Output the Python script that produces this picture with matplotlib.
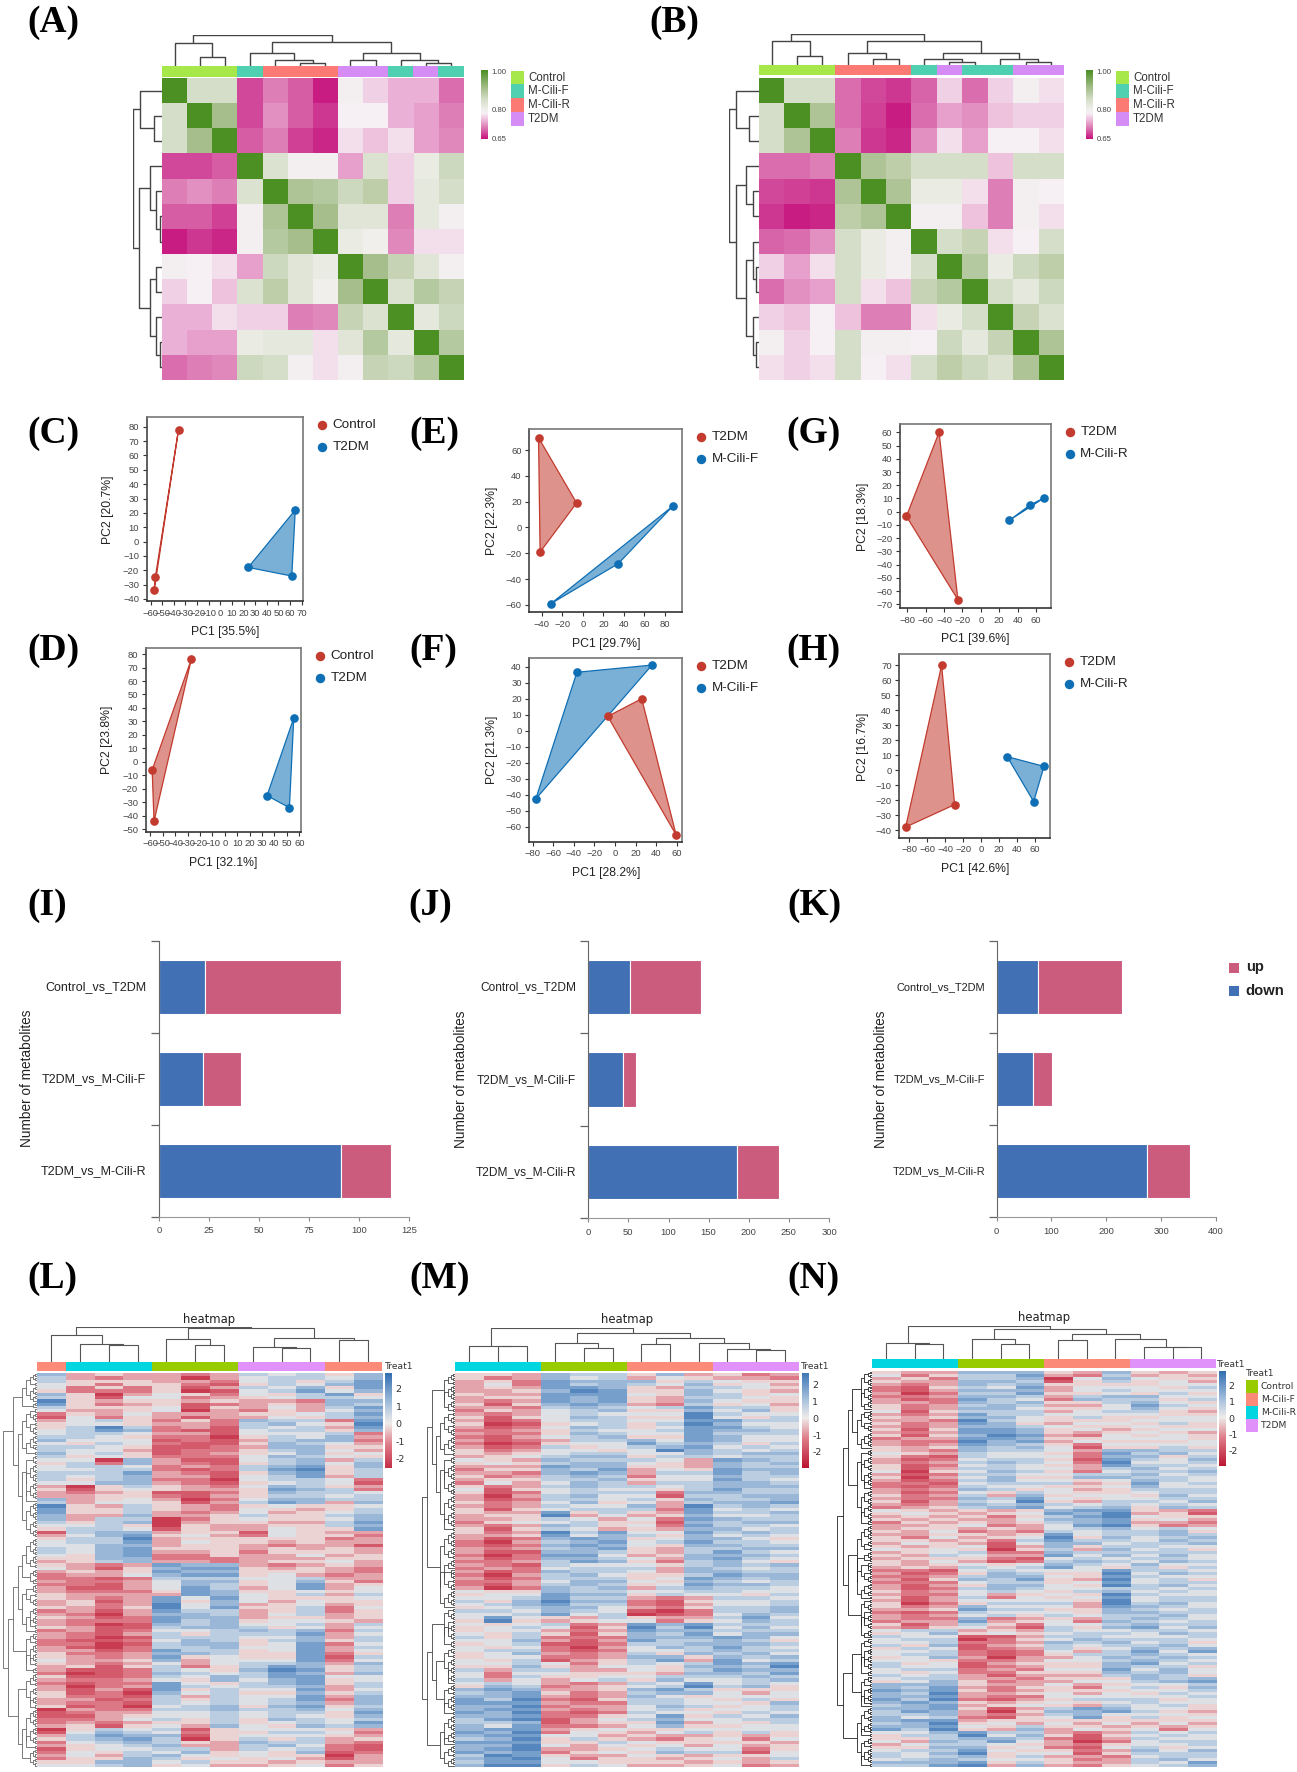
import numpy as np
import matplotlib
matplotlib.use('Agg')
import matplotlib.pyplot as plt
from matplotlib.collections import LineCollection
from matplotlib.colors import LinearSegmentedColormap, Normalize
from matplotlib.patches import Rectangle

W, H = 1297, 1772
plt.rcParams['font.family'] = ['Liberation Sans', 'DejaVu Sans']

# ---- correlation heatmaps (A, B) ----
CORR_LEGEND = ['Control', 'M-Cili-F', 'M-Cili-R', 'T2DM']
CORR_COLORS = {'G': '#a6e84a', 'F': '#4fd0b0', 'R': '#fb7a74', 'T': '#d58cf5'}
A_GROUPS = 'GGGFRRRTTFTF'
B_GROUPS = 'GGGRRRFTFFTT'
A_CORR = [
    [1.00, .85, .85, .68, .71, .69, .655, .79, .76, .74, .74, .70],
    [.85, 1.00, .91, .68, .72, .69, .67, .78, .78, .74, .73, .71],
    [.85, .91, 1.00, .69, .71, .675, .66, .77, .75, .77, .73, .715],
    [.68, .68, .69, 1.00, .84, .79, .79, .73, .84, .76, .81, .86],
    [.71, .72, .71, .84, 1.00, .90, .89, .86, .88, .76, .82, .85],
    [.69, .69, .675, .79, .90, 1.00, .91, .83, .83, .71, .82, .79],
    [.655, .67, .66, .79, .89, .91, 1.00, .81, .80, .715, .77, .77],
    [.79, .78, .77, .73, .86, .83, .81, 1.00, .91, .87, .83, .79],
    [.76, .78, .75, .84, .88, .83, .80, .91, 1.00, .84, .89, .87],
    [.74, .74, .77, .76, .76, .71, .715, .87, .84, 1.00, .82, .86],
    [.74, .73, .73, .81, .82, .82, .77, .83, .89, .82, 1.00, .89],
    [.70, .71, .715, .86, .85, .79, .77, .79, .87, .86, .89, 1.00],
]
B_CORR = [
    [1.00, .85, .85, .70, .68, .67, .695, .76, .70, .76, .79, .77],
    [.85, 1.00, .90, .70, .675, .655, .70, .73, .72, .75, .76, .76],
    [.85, .90, 1.00, .71, .67, .66, .72, .77, .73, .78, .78, .77],
    [.70, .70, .71, 1.00, .90, .88, .85, .85, .85, .75, .85, .85],
    [.68, .675, .67, .90, 1.00, .90, .81, .81, .77, .71, .79, .78],
    [.67, .655, .66, .88, .90, 1.00, .79, .79, .75, .71, .79, .77],
    [.695, .70, .72, .85, .81, .79, 1.00, .85, .87, .77, .78, .85],
    [.76, .73, .77, .85, .81, .79, .85, 1.00, .89, .81, .86, .88],
    [.70, .72, .73, .85, .77, .75, .87, .89, 1.00, .85, .82, .86],
    [.76, .75, .78, .75, .71, .71, .77, .81, .85, 1.00, .87, .84],
    [.79, .76, .78, .85, .79, .79, .78, .86, .82, .87, 1.00, .90],
    [.77, .76, .77, .85, .78, .77, .85, .88, .86, .84, .90, 1.00],
]
# trees are (height, left, right), leaves are the column or row numbers
A_COL_TREE = (1.0, (.75, 0, (.3, 1, 2)),
              (.76, (.41, 3, (.2, 4, (.1, 5, 6))), (.41, (.2, 7, 8), (.2, 9, (.1, 10, 11)))))
A_ROW_TREE = (1.0, (.74, 0, (.29, 1, 2)),
              (.77, (.4, 3, (.2, 4, (.07, 5, 6))), (.4, (.2, 7, 8), (.2, 9, (.07, 10, 11)))))
B_COL_TREE = (1.0, (.78, 0, (.3, 1, 2)),
              (.78, (.4, 3, (.2, 4, 5)), (.4, (.2, 6, (.1, 7, 8)), (.2, 9, (.1, 10, 11)))))
B_ROW_TREE = (1.0, (.77, 0, (.32, 1, 2)),
              (.77, (.42, 3, (.2, 4, 5)), (.42, (.2, 6, (.1, 7, 8)), (.2, 9, (.1, 10, 11)))))

# ---- PCA panels ----
C_CONTROL = [[-36, 78], [-56, -25], [-57, -34]]
C_T2DM = [[64.5, 22], [24, -18], [61.5, -24]]
D_CONTROL = [[-27, 76], [-58.5, -6], [-57, -44]]
D_T2DM = [[55.5, 32.5], [34, -25], [52, -34]]
E_T2DM = [[-43, 69.5], [-6, 19], [-41.5, -19]]
E_CILI_F = [[87.5, 16.5], [34.5, -28], [-31, -59]]
F_T2DM = [[-7, 9], [26, 20], [59.5, -65]]
F_CILI_F = [[-37, 36.5], [36, 41], [-77, -42.5]]
G_T2DM = [[-45.5, 60], [-81, -3.5], [-25, -66.5]]
G_CILI_R = [[31, -6.5], [53.5, 5], [69, 10.5]]
H_T2DM = [[-44, 70], [-29.5, -23], [-84, -38]]
H_CILI_R = [[29, 9], [70, 2.5], [58.5, -21]]

# ---- bars ----
BAR_CATS = ['Control_vs_T2DM', 'T2DM_vs_M-Cili-F', 'T2DM_vs_M-Cili-R']
I_DOWN = [23, 22, 91]
I_UP = [68, 19, 25]
J_DOWN = [52, 43, 185]
J_UP = [88, 16, 53]
K_DOWN = [75, 66, 275]
K_UP = [153, 35, 77]

# ---- metabolite heatmaps, each digit a level from 0 (-2.3) to 9 (+2.3) ----
HEAT_COLORS = {'G': '#99cc00', 'F': '#fb8a78', 'R': '#00d5e0', 'T': '#e191fa'}
L_GROUPS = 'FRRRGGGTTTFF'
MN_GROUPS = 'RRRGGGFFFTTT'
L_ROWS = [
    '7 343 323 656 47', '6 323 303 566 57', '6 444 332 564 68', '5 424 421 465 78',
    '5 242 413 657 48', '4 222 401 568 57', '7 403 542 546 84', '6 415 523 456 65',
    '9 434 434 332 77', '8 423 412 343 76', '6 444 514 353 68', '5 334 503 243 57',
    '2 435 333 445 68', '1 524 313 354 67', '3 564 242 766 28', '4 554 332 675 49',
    '4 696 231 656 38', '5 687 211 566 47', '5 665 331 555 62', '6 654 220 465 73',
    '7 555 121 367 72', '5 465 211 476 53', '6 654 112 377 44', '6 553 122 467 53',
    '7 564 123 457 45', '6 454 222 576 54', '5 507 311 567 36', '4 627 321 467 57',
    '5 665 232 678 47', '5 566 212 689 46', '6 668 321 478 46', '6 567 331 568 36',
    '6 467 220 566 52', '5 577 321 456 51', '3 046 432 576 43', '4 145 433 487 62',
    '3 234 112 476 65', '3 344 213 466 56', '7 345 302 577 66', '6 355 413 687 37',
    '9 436 432 454 45', '8 446 432 543 46', '8 446 323 534 56', '7 337 334 644 67',
    '7 366 024 544 57', '6 467 034 433 68', '5 564 043 344 67', '4 665 143 354 48',
    '1 677 344 154 33', '3 578 453 254 42', '4 669 344 444 23', '5 668 354 434 33',
    '5 577 344 323 31', '6 578 444 343 43', '6 578 334 244 43', '5 478 224 335 34',
    '4 477 222 333 44', '3 467 332 344 53', '4 323 877 323 43', '5 314 788 434 32',
    '3 434 877 444 32', '2 335 788 453 23', '2 212 666 556 33', '3 223 577 457 42',
    '2 213 576 458 34', '3 113 586 358 35', '3 222 487 445 45', '4 333 387 546 36',
    '4 323 858 544 45', '3 413 847 535 44', '3 423 957 345 34', '4 324 958 446 25',
    '2 313 866 346 24', '3 203 776 356 34', '4 312 877 344 34', '3 222 867 455 43',
    '3 201 767 556 36', '4 311 677 645 35', '2 312 556 767 26', '3 213 646 668 35',
    '3 201 666 557 36', '2 112 576 467 46', '2 201 677 458 25', '3 102 667 558 36',
    '3 312 866 458 35', '4 223 776 448 24', '4 323 845 448 16', '5 334 735 558 25',
    '4 323 535 667 37', '3 414 624 687 46', '3 112 654 798 46', '2 012 765 687 37',
    '4 112 657 688 55', '3 223 547 578 45', '2 122 854 678 46', '3 023 865 667 36',
    '3 131 846 558 35', '4 120 756 447 46', '4 221 636 558 37', '3 312 646 568 27',
    '3 221 656 567 37', '4 120 567 478 46', '0 322 667 667 57', '1 233 556 566 48',
    '1 134 556 565 47', '2 235 646 476 56', '2 323 446 456 58', '3 414 537 547 67',
    '0 465 614 555 43', '1 576 524 466 52', '3 687 714 555 43', '4 678 604 646 34',
    '2 567 643 766 32', '3 456 733 675 21', '1 455 663 656 21', '2 546 574 547 12',
    '3 536 754 544 03', '2 447 645 453 13', '4 477 564 434 33', '5 567 453 345 24',
]
M_ROWS = [
    '443 766 473 423', '423 756 354 332', '342 877 746 544', '352 867 657 453',
    '343 887 436 654', '334 798 447 543', '433 888 547 645', '344 878 436 654',
    '323 878 437 544', '414 787 326 453', '332 676 568 664', '243 567 447 574',
    '323 565 559 655', '414 576 449 546', '312 566 558 866', '401 456 469 755',
    '312 576 458 865', '223 465 568 776', '322 476 558 666', '213 567 448 755',
    '312 366 758 755', '201 455 867 646', '312 645 678 565', '423 554 597 656',
    '434 566 557 677', '345 677 466 566', '543 766 653 876', '454 677 543 767',
    '333 877 443 766', '244 768 354 877', '332 787 366 867', '423 676 255 766',
    '344 667 455 865', '253 576 366 776', '423 676 656 777', '514 565 546 866',
    '412 566 627 766', '303 675 516 677', '312 665 647 667', '423 574 536 778',
    '323 655 739 676', '414 566 628 565', '433 846 438 667', '344 935 347 556',
    '334 653 528 766', '245 564 417 677', '323 764 528 665', '414 653 437 756',
    '423 968 558 676', '334 857 647 565', '312 787 457 754', '203 678 568 665',
    '212 787 547 766', '323 678 436 677', '311 776 436 865', '202 885 347 776',
    '312 776 537 865', '223 687 426 754', '321 655 546 767', '232 566 637 656',
    '312 766 537 766', '203 675 446 877', '312 666 458 767', '223 577 547 656',
    '213 676 458 776', '302 767 367 665', '544 766 556 655', '455 877 465 546',
    '556 866 323 665', '647 977 214 556', '567 866 213 556', '456 775 324 667',
    '665 765 102 667', '556 856 012 576', '585 436 433 685', '494 345 524 576',
    '545 623 878 666', '456 514 969 575', '455 323 877 666', '546 414 768 577',
    '646 222 777 875', '557 313 866 764', '456 112 667 776', '545 203 576 865',
    '566 212 556 766', '457 323 647 675', '455 223 774 767', '546 134 683 856',
    '556 524 656 878', '447 435 547 769', '636 633 546 877', '525 544 437 768',
    '526 445 566 676', '635 356 475 567', '565 323 658 565', '476 234 569 674',
    '787 334 786 444', '678 423 677 535', '778 323 754 555', '869 214 665 464',
    '888 322 665 547', '779 233 576 456', '788 323 564 556', '879 212 655 465',
    '778 224 584 657', '689 135 675 566', '667 134 483 546', '758 223 574 455',
    '788 345 445 555', '879 254 356 464', '788 553 433 434', '679 464 324 525',
    '888 446 544 443', '779 535 453 534', '789 334 565 524', '878 245 476 615',
    '698 433 543 445', '789 524 434 536', '688 554 443 434', '799 465 334 523',
]
N_ROWS = [
    '433 777 437 434', '524 668 326 343', '342 667 057 544', '433 776 146 453',
    '323 767 444 455', '214 658 355 546', '213 777 356 555', '302 668 445 464',
    '223 776 367 755', '312 865 276 646', '332 767 446 754', '423 676 335 865',
    '423 775 445 754', '514 666 356 643', '323 866 555 544', '434 775 464 455',
    '332 965 444 555', '423 874 355 464', '323 776 544 544', '414 887 453 455',
    '323 887 434 543', '414 798 325 454', '233 887 445 554', '322 978 354 445',
    '323 876 425 555', '434 767 514 464', '432 766 537 766', '543 655 428 675',
    '421 655 527 746', '312 566 418 657', '323 676 529 556', '412 565 438 665',
    '413 665 536 756', '504 576 425 667', '312 665 566 756', '403 574 477 665',
    '312 675 545 765', '221 566 634 856', '212 655 445 755', '323 764 534 666',
    '312 546 544 566', '423 637 455 475', '322 768 545 566', '413 659 436 657',
    '323 767 656 565', '234 678 567 476', '543 434 788 432', '454 345 879 341',
    '343 424 689 544', '434 335 778 453', '243 434 678 332', '334 523 589 423',
    '344 343 567 565', '435 232 656 674', '334 434 856 676', '425 345 947 567',
    '443 426 866 576', '354 315 775 667', '434 513 746 655', '545 404 637 564',
    '345 622 766 666', '436 533 857 575', '344 421 565 665', '435 312 676 576',
    '434 545 765 755', '343 656 854 646', '221 565 558 665', '312 476 449 576',
    '223 677 548 655', '314 768 439 564', '222 566 458 566', '313 477 549 675',
    '312 676 556 656', '423 565 467 565', '322 534 549 655', '413 625 458 566',
    '313 555 549 566', '402 466 639 675', '423 755 538 765', '334 866 447 656',
    '212 655 547 766', '323 564 656 675', '322 723 436 765', '233 834 527 656',
    '413 642 556 766', '324 531 647 857', '566 343 655 665', '457 454 566 576',
    '655 113 665 556', '566 024 576 665', '556 223 767 564', '647 134 656 675',
    '465 123 645 767', '556 212 536 858', '566 212 466 765', '457 303 357 676',
    '554 223 556 765', '645 134 447 856', '655 123 447 664', '566 232 558 575',
    '545 224 447 675', '656 313 336 764', '566 332 444 767', '457 423 355 678',
    '777 433 534 556', '768 324 425 647', '878 423 444 556', '769 334 535 465',
    '778 322 555 556', '869 213 466 645', '787 434 545 655', '678 345 436 564',
    '778 413 687 554', '687 304 778 643', '667 323 675 554', '756 214 584 645',
    '788 344 444 444', '679 453 535 353', '778 546 443 434', '869 437 354 525',
    '557 866 323 656', '466 957 414 565', '446 776 213 655', '537 685 302 566',
    '356 654 324 556', '447 745 215 645', '566 854 423 757', '657 945 514 666',
    '656 746 332 566', '567 655 423 675', '777 846 433 658', '668 937 324 567',
]
L_COL_TREE = (1.0, (.75, 0, (.5, 1, (.48, 2, 3))),
              (.95, (.65, 4, (.47, 5, 6)), (.67, (.42, 7, (.4, 8, 9)), (.62, 10, 11))))
M_COL_TREE = (1.0, (.47, 0, (.45, 1, 2)),
              (.85, (.56, 3, (.41, 4, 5)), (.7, (.52, 6, 7), (.56, 8, (.36, 9, (.35, 10, 11))))))
N_COL_TREE = (1.0, (.48, 0, (.47, 1, 2)),
              (.9, (.6, 3, (.45, 4, 5)), (.75, (.57, 6, 7), (.59, 8, (.38, 9, (.37, 10, 11))))))
# merge level between neighbouring rows, 9 is the root of the row dendrogram
L_ROW_GAPS = ('121314121312512' '7' '13121413121512132141' '6' '12141213121412131214' '5' '121312141213121' '9'
              '12131214121315121312' '6' '121413121512131213141' '7' '21314121312131412' '8' '121314121312131' '6'
              '12131214121312141' '5' '1213121')
M_ROW_GAPS = ('1213141213121412131' '7' '131214131215121312141' '6' '1214121312141213121' '5' '12131214121312141' '8'
              '121312141213151213' '4' '2121413121512131214' '9' '1312141312131214121' '7' '21314121312131213' '6'
              '121314121312141' '8' '12131214121314' '5' '1213141213')
N_ROW_GAPS = ('12131214121312141213' '6' '13121413121512131214' '7' '121412131214121312131' '5' '121312141213121412' '8'
              '1213121412131512131' '5' '2121413121512131241' '7' '13121413121312141213' '9' '2131412131213121412' '6'
              '1213141213121314' '8' '121312141213141' '5' '121314121312141')

# ---- helpers ----
fig = plt.figure(figsize=(W / 100, H / 100), dpi=100, facecolor='white')


def px_axes(x0, y0, x1, y1):
    return fig.add_axes([x0 / W, 1 - y1 / H, (x1 - x0) / W, (y1 - y0) / H])


page = fig.add_axes([0, 0, 1, 1], zorder=10)
page.set_xlim(0, W)
page.set_ylim(H, 0)
page.axis('off')
page.patch.set_alpha(0)


def tree_lines(node, segs, horizontal):
    # returns leaf position and height, adds the bracket lines to segs
    if not isinstance(node, tuple):
        return node, 0
    h, a, b = node
    pa, ha = tree_lines(a, segs, horizontal)
    pb, hb = tree_lines(b, segs, horizontal)
    pts = [[(pa, ha), (pa, h), (pb, h), (pb, hb)]]
    if not horizontal:
        pts = [[(y, x) for x, y in pts[0]]]
    segs.extend(pts)
    return (pa + pb) / 2, h


def gaps_tree(gaps, lo, hi):
    if lo == hi:
        return lo
    chunk = gaps[lo:hi]
    k = lo + int(np.argmax(chunk))
    return (gaps[k], gaps_tree(gaps, lo, k), gaps_tree(gaps, k + 1, hi))


def draw_col_tree(tree, n, x0, y0, x1, y1, color='#444444', lw=1.0):
    ax = px_axes(x0, y0, x1, y1)
    segs = []
    tree_lines(tree, segs, True)
    ax.add_collection(LineCollection(segs, colors=color, linewidths=lw))
    ax.set_xlim(-.5, n - .5)
    ax.set_ylim(0, 1)
    ax.axis('off')


def draw_row_tree(tree, n, x0, y0, x1, y1, color='#444444', lw=1.0):
    ax = px_axes(x0, y0, x1, y1)
    segs = []
    tree_lines(tree, segs, False)
    ax.add_collection(LineCollection(segs, colors=color, linewidths=lw))
    ax.set_xlim(1, 0)
    ax.set_ylim(n - .5, -.5)
    ax.axis('off')


def draw_groups(groups, colors, x0, y0, x1, y1):
    ax = px_axes(x0, y0, x1, y1)
    ax.bar(range(len(groups)), 1, width=1.0, color=[colors[g] for g in groups])
    ax.set_xlim(-.5, len(groups) - .5)
    ax.set_ylim(0, 1)
    ax.axis('off')


# ---- panels A, B ----
corr_cmap = LinearSegmentedColormap.from_list('corr', [
    (0, '#c7157f'), ((.70 - .65) / .35, '#da6fae'), ((.74 - .65) / .35, '#ebb2d6'), ((.78 - .65) / .35, '#f7eff4'),
    ((.80 - .65) / .35, '#f0f0ec'), ((.85 - .65) / .35, '#d6dfc9'), ((.91 - .65) / .35, '#a6bf8c'),
    (1, '#4c8f23')])


def corr_panel(corr, groups, col_tree, row_tree, x0, x1, den_top, bar_top, bar_bot, den_left, cb_x, lg_x):
    ax = px_axes(x0, 78, x1, 380)
    ax.imshow(corr, cmap=corr_cmap, vmin=.65, vmax=1, aspect='auto', interpolation='nearest')
    ax.axis('off')
    draw_groups(groups, CORR_COLORS, x0, bar_top, x1, bar_bot)
    draw_col_tree(col_tree, 12, x0, den_top, x1, bar_top)
    draw_row_tree(row_tree, 12, den_left, 78, x0, 380)
    cb = px_axes(cb_x, 70, cb_x + 6.5, 139)
    cb.imshow(np.linspace(1, .65, 100)[:, None], cmap=corr_cmap, vmin=.65, vmax=1, aspect='auto',
              extent=[0, 1, .645, 1.006])
    cb.set_xticks([])
    cb.yaxis.tick_right()
    cb.set_yticks([.65, .8, 1.0], ['0.65', '0.80', '1.00'], fontsize=5.6, color='#444444')
    cb.tick_params(length=0, pad=3)
    for s in cb.spines.values():
        s.set_visible(False)
    for i, (name, key) in enumerate(zip(CORR_LEGEND, 'GFRT')):
        page.add_patch(Rectangle((lg_x, 70.7 + i * 13.7), 13, 13.7, fc=CORR_COLORS[key], lw=0))
        page.text(lg_x + 17, 70.7 + (i + .5) * 13.7, name, fontsize=8.3, va='center', color='#333333')


corr_panel(A_CORR, A_GROUPS, A_COL_TREE, A_ROW_TREE, 162, 463.5, 35, 66, 76.7, 132.7, 481, 511)
corr_panel(B_CORR, B_GROUPS, B_COL_TREE, B_ROW_TREE, 759, 1063.6, 34, 65, 75, 729, 1085.6, 1116)

# ---- panels C-H ----
RED, BLUE = '#c23b2e', '#0f6fb5'


def pca_panel(box, xlim, ylim, xt, yt, red, blue, names, xlabel, ylabel, lab_xy, ylab_xy, leg):
    ax = px_axes(*box)
    for pts, c in ((red, RED), (blue, BLUE)):
        pts = np.array(pts)
        ax.fill(pts[:, 0], pts[:, 1], fc=c, alpha=.55, lw=0)
        ax.fill(pts[:, 0], pts[:, 1], fc='none', ec=c, lw=.9)
        ax.plot(pts[:, 0], pts[:, 1], 'o', color=c, ms=5.2, ls='none', clip_on=False)
    ax.set_xlim(*xlim)
    ax.set_ylim(*ylim)
    ax.set_xticks(xt)
    ax.set_yticks(yt)
    ax.tick_params(labelsize=6.8, labelcolor='#444444', length=3, width=.8, color='#333333', pad=2.5)
    for s in ax.spines.values():
        s.set_color('#777777')
        s.set_linewidth(1.2)
    ax.spines['left'].set_color('#444444')
    ax.spines['bottom'].set_color('#333333')
    page.text(lab_xy[0], lab_xy[1], xlabel, fontsize=8.8, ha='center', va='center', color='#222222')
    page.text(ylab_xy[0], ylab_xy[1], ylabel, fontsize=8.8, ha='center', va='center', rotation=90, color='#222222')
    for i, (name, c) in enumerate(zip(names, (RED, BLUE))):
        y = leg[1] + i * 22.4
        page.plot([leg[0]], [y], 'o', color=c, ms=5.8)
        page.text(leg[0] + 10.5, y, name, fontsize=9.7, va='center', color='#222222')


pca_panel((146.7, 417, 302.7, 601), (-63.4, 70.9), (-41.4, 86.8), range(-60, 71, 10), range(-40, 81, 10),
          C_CONTROL, C_T2DM, ['Control', 'T2DM'], 'PC1 [35.5%]', 'PC2 [20.7%]', (225, 632), (108, 510), (321.7, 425))
pca_panel((145.7, 648, 300.7, 831.7), (-63.7, 61.1), (-51.8, 84.5), range(-60, 61, 10), range(-50, 81, 10),
          D_CONTROL, D_T2DM, ['Control', 'T2DM'], 'PC1 [32.1%]', 'PC2 [23.8%]', (223, 863), (107, 740), (320, 655.7))
pca_panel((529.3, 429, 681.7, 612.3), (-52, 96.2), (-65.7, 76.3), range(-40, 81, 20), range(-60, 61, 20),
          E_T2DM, E_CILI_F, ['T2DM', 'M-Cili-F'], 'PC1 [29.7%]', 'PC2 [22.3%]', (606, 644), (491.7, 521), (701, 436.7))
pca_panel((529.3, 657.7, 681.7, 841.7), (-83.3, 64.9), (-69.2, 45.6), range(-80, 61, 20), range(-60, 41, 10),
          F_T2DM, F_CILI_F, ['T2DM', 'M-Cili-F'], 'PC1 [28.2%]', 'PC2 [21.3%]', (606, 872.7), (491.7, 750), (701, 665.7))
pca_panel((900, 424, 1051, 608), (-88, 76.3), (-72.8, 66.3), range(-80, 61, 20), range(-70, 61, 10),
          G_T2DM, G_CILI_R, ['T2DM', 'M-Cili-R'], 'PC1 [39.6%]', 'PC2 [18.3%]', (975.3, 639), (862.7, 516.7), (1069.7, 431.7))
pca_panel((899.3, 654, 1050.3, 837.7), (-91.1, 77), (-45.1, 77.5), range(-80, 61, 20), range(-40, 71, 10),
          H_T2DM, H_CILI_R, ['T2DM', 'M-Cili-R'], 'PC1 [42.6%]', 'PC2 [16.7%]', (975, 869.3), (862.7, 746.7), (1069.3, 662))

# ---- panels I-K ----
BAR_BLUE, BAR_PINK = '#4270b4', '#cb5c7e'


def bar_panel(box, xmax, xt, down, up, lab_x, ylab_x, tick_y, cat_size):
    ax = px_axes(*box)
    ax.barh([.5, 1.5, 2.5], down, height=.59, color=BAR_BLUE, edgecolor='white', linewidth=.8)
    ax.barh([.5, 1.5, 2.5], up, left=down, height=.59, color=BAR_PINK, edgecolor='white', linewidth=.8)
    ax.set_xlim(0, xmax)
    ax.set_ylim(3, 0)
    ax.set_xticks(xt)
    ax.set_yticks([0, 1, 2, 3])
    ax.set_yticklabels([])
    ax.tick_params(axis='x', labelbottom=False, length=3, width=.8, color='#888888')
    ax.tick_params(axis='y', length=5.8, width=.9, color='#666666')
    for t in xt:
        page.text(box[0] + (box[2] - box[0]) * t / xmax, tick_y, str(t), fontsize=6.8, ha='center', va='center', color='#444444')
    for name, y in zip(BAR_CATS, [.5, 1.5, 2.5]):
        page.text(lab_x, box[1] + (box[3] - box[1]) * y / 3, name, fontsize=cat_size, ha='right', va='center', color='#222222')
    ax.spines['top'].set_visible(False)
    ax.spines['right'].set_visible(False)
    ax.spines['left'].set_color('#666666')
    ax.spines['bottom'].set_color('#999999')
    page.text(ylab_x, (box[1] + box[3]) / 2, 'Number of metabolites', fontsize=9.8, rotation=90, ha='center', va='center', color='#222222')


bar_panel((158.8, 940.7, 409, 1216.7), 125, [0, 25, 50, 75, 100, 125], I_DOWN, I_UP, 146, 27, 1230.7, 9.0)
bar_panel((588.3, 941, 829, 1218.3), 300, [0, 50, 100, 150, 200, 250, 300], J_DOWN, J_UP, 575.9, 461.4, 1232.7, 8.6)
bar_panel((996.5, 940.7, 1216, 1217), 400, [0, 100, 200, 300, 400], K_DOWN, K_UP, 985.3, 880.7, 1231, 7.9)
for name, c, y in (('up', BAR_PINK, 967.7), ('down', BAR_BLUE, 991)):
    page.add_patch(Rectangle((1228.8, y - 5), 9.7, 10, fc=c, lw=0))
    page.text(1245.8, y - .5, name, fontsize=10.6, fontweight='bold', va='center', color='#222222')

# ---- panels L-N ----
heat_cmap = LinearSegmentedColormap.from_list('heat', [
    (0, '#bb1530'), (.3, '#df7f8b'), (.5, '#efecea'), (.68, '#a9c2de'), (1, '#2a69ae')])
heat_norm = Normalize(-3, 3)


def heat_panel(rows, groups, col_tree, gaps, box, bar, den_top, den_left, cb_box, cb_ticks, title_xy, treat_x, line_c):
    x0, y0, x1, y1 = box
    vals = np.array([[(int(d) - 4.5) * .52 for d in r.replace(' ', '')] for r in rows])
    ax = px_axes(*box)
    ax.imshow(vals, cmap=heat_cmap, norm=heat_norm, aspect='auto', interpolation='nearest')
    ax.axis('off')
    draw_groups(groups, HEAT_COLORS, x0, bar[0], x1, bar[1])
    draw_col_tree(col_tree, 12, x0, den_top, x1, bar[0], color='#555555', lw=.8)
    levels = [int(c) for c in gaps]
    tree = gaps_tree(levels, 0, len(levels))

    def scale(node):
        if not isinstance(node, tuple):
            return node
        return ((node[0] / 9) ** 1.4, scale(node[1]), scale(node[2]))

    draw_row_tree(scale(tree), len(levels) + 1, den_left, y0, x0, y1, color=line_c, lw=.6)
    top, bottom = cb_ticks[0][1], cb_ticks[-1][1]
    per_unit = (bottom - top) / 4
    vtop = 2 + (top - cb_box[1]) / per_unit
    vbot = -2 - (cb_box[3] - bottom) / per_unit
    cb = px_axes(*cb_box)
    cb.imshow(np.linspace(vtop, vbot, 200)[:, None], cmap=heat_cmap, norm=heat_norm, aspect='auto',
              extent=[0, 1, vbot, vtop])
    cb.set_xticks([])
    cb.yaxis.tick_right()
    cb.set_yticks([v for v, _ in cb_ticks], [str(v) for v, _ in cb_ticks], fontsize=6.8, family='DejaVu Sans', color='#333333')
    cb.tick_params(length=0, pad=2.5)
    for s in cb.spines.values():
        s.set_visible(False)
    page.text(title_xy[0], title_xy[1], 'heatmap', family='DejaVu Sans', fontsize=8.4, ha='center', va='center', color='#222222')
    page.text(treat_x, bar[0] + 5, 'Treat1', family='DejaVu Sans', fontsize=6.6, va='center', color='#333333')


heat_panel(L_ROWS, L_GROUPS, L_COL_TREE, L_ROW_GAPS, (36.7, 1372.7, 382.3, 1766.7), (1361.7, 1370.7), 1326.7, 3.3,
           (385.3, 1372.7, 392, 1468.3), [(2, 1388.7), (1, 1406), (0, 1423.3), (-1, 1441.3), (-2, 1458.7)],
           (209.3, 1320), 384.7, '#666666')
heat_panel(M_ROWS, MN_GROUPS, M_COL_TREE, M_ROW_GAPS, (455, 1372.7, 799, 1766.7), (1361.7, 1370.7), 1327.7, 421.7,
           (802.3, 1372.7, 808.7, 1468.3), [(2, 1385), (1, 1401.7), (0, 1418.3), (-1, 1435), (-2, 1451.7)],
           (626.7, 1320), 801, '#444444')
heat_panel(N_ROWS, MN_GROUPS, N_COL_TREE, N_ROW_GAPS, (871.7, 1370.7, 1215.7, 1766.7), (1359.3, 1368.3), 1325.7, 837.3,
           (1219, 1370.7, 1225.3, 1466), [(2, 1385.7), (1, 1402), (0, 1418), (-1, 1434), (-2, 1450.3)],
           (1043.7, 1317.7), 1217.3, '#222222')
page.text(1245.7, 1374, 'Treat1', family='DejaVu Sans', fontsize=6.6, va='center', color='#333333')
for i, (name, key) in enumerate(zip(CORR_LEGEND, 'GFRT')):
    page.add_patch(Rectangle((1245.7, 1380 + i * 12.9), 12.5, 12.9, fc=HEAT_COLORS[key], lw=0))
    page.text(1260.7, 1380 + (i + .5) * 12.9, name, family='DejaVu Sans', fontsize=6.6, va='center', color='#333333')

# ---- panel letters ----
LETTERS = {'(A)': (27, 22), '(B)': (649, 22), '(C)': (27, 433), '(D)': (27, 650), '(E)': (409, 433), '(F)': (409, 650),
           '(G)': (786, 433), '(H)': (786, 650), '(I)': (27, 905), '(J)': (408, 905), '(K)': (787, 905),
           '(L)': (27, 1278), '(M)': (409, 1278), '(N)': (787, 1278)}
for label, (x, y) in LETTERS.items():
    page.text(x, y, label, family='Liberation Serif', fontweight='bold', fontsize=27, va='center', color='black')

fig.savefig('out.png', dpi=100)
